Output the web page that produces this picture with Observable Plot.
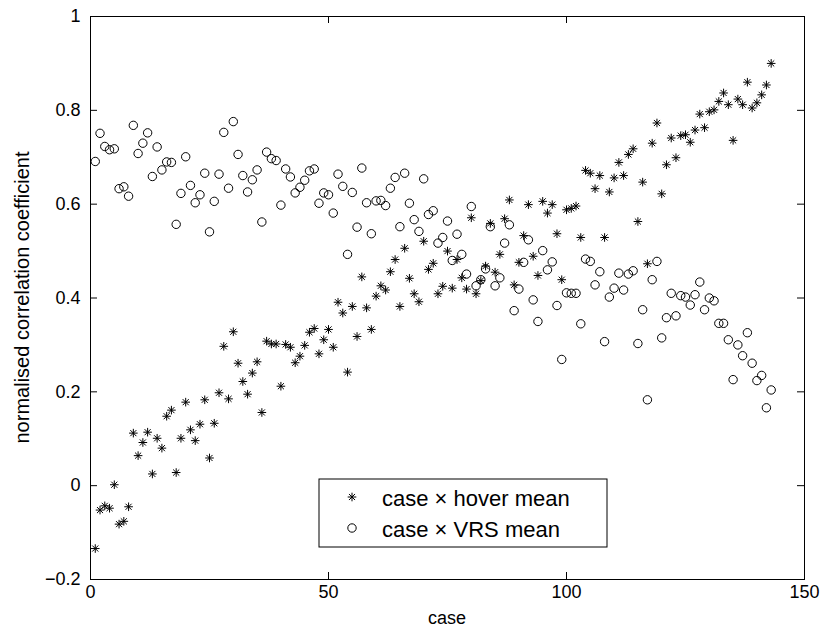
<!DOCTYPE html>
<html>
<head>
<meta charset="utf-8">
<script src="https://cdn.jsdelivr.net/npm/d3@7"></script>
<script src="https://cdn.jsdelivr.net/npm/@observablehq/plot@0.6"></script>
<style>
  html, body { margin: 0; padding: 0; background: #fff; }
  #chart { width: 829px; height: 639px; }
</style>
</head>
<body>
<div id="chart"></div>
<script>
const cases = d3.range(1, 144);

const hoverMean = [
  -0.134, -0.052, -0.043, -0.048, 0.002, -0.082, -0.076, -0.045, 0.112, 0.064,
  0.092, 0.114, 0.025, 0.101, 0.080, 0.148, 0.161, 0.028, 0.101, 0.178,
  0.119, 0.096, 0.131, 0.183, 0.059, 0.133, 0.198, 0.297, 0.185, 0.328,
  0.261, 0.222, 0.195, 0.240, 0.264, 0.156, 0.308, 0.302, 0.302, 0.212,
  0.301, 0.295, 0.262, 0.276, 0.299, 0.327, 0.335, 0.281, 0.311, 0.333,
  0.295, 0.391, 0.368, 0.242, 0.382, 0.318, 0.445, 0.379, 0.333, 0.404,
  0.426, 0.417, 0.456, 0.482, 0.382, 0.506, 0.442, 0.409, 0.392, 0.521,
  0.461, 0.474, 0.409, 0.425, 0.500, 0.421, 0.482, 0.443, 0.419, 0.571,
  0.409, 0.437, 0.468, 0.559, 0.455, 0.493, 0.569, 0.609, 0.428, 0.476,
  0.533, 0.599, 0.489, 0.448, 0.606, 0.581, 0.599, 0.537, 0.439, 0.588,
  0.591, 0.596, 0.529, 0.672, 0.666, 0.633, 0.661, 0.529, 0.626, 0.656,
  0.689, 0.661, 0.706, 0.718, 0.563, 0.647, 0.473, 0.730, 0.773, 0.622,
  0.684, 0.741, 0.699, 0.746, 0.748, 0.732, 0.758, 0.792, 0.763, 0.797,
  0.801, 0.819, 0.837, 0.812, 0.736, 0.824, 0.812, 0.860, 0.805, 0.816,
  0.833, 0.854, 0.900
];

const vrsMean = [
  0.691, 0.751, 0.723, 0.716, 0.718, 0.633, 0.637, 0.617, 0.768, 0.708,
  0.730, 0.752, 0.659, 0.722, 0.673, 0.690, 0.689, 0.557, 0.623, 0.701,
  0.640, 0.603, 0.620, 0.666, 0.541, 0.606, 0.664, 0.753, 0.634, 0.776,
  0.706, 0.661, 0.626, 0.652, 0.673, 0.562, 0.711, 0.697, 0.693, 0.598,
  0.675, 0.658, 0.624, 0.636, 0.651, 0.671, 0.675, 0.602, 0.624, 0.620,
  0.581, 0.664, 0.638, 0.493, 0.625, 0.551, 0.677, 0.603, 0.537, 0.607,
  0.608, 0.597, 0.634, 0.657, 0.552, 0.666, 0.602, 0.567, 0.542, 0.654,
  0.578, 0.586, 0.517, 0.529, 0.564, 0.480, 0.536, 0.493, 0.451, 0.595,
  0.426, 0.439, 0.462, 0.552, 0.426, 0.443, 0.517, 0.556, 0.373, 0.419,
  0.476, 0.524, 0.396, 0.350, 0.501, 0.460, 0.477, 0.384, 0.269, 0.411,
  0.410, 0.410, 0.345, 0.483, 0.478, 0.428, 0.456, 0.307, 0.402, 0.421,
  0.453, 0.417, 0.451, 0.458, 0.303, 0.375, 0.183, 0.439, 0.478, 0.315,
  0.358, 0.410, 0.362, 0.405, 0.402, 0.385, 0.407, 0.434, 0.375, 0.400,
  0.394, 0.346, 0.346, 0.311, 0.226, 0.300, 0.277, 0.326, 0.261, 0.224,
  0.235, 0.166, 0.204
];

const xTicks = [0, 50, 100, 150];
const yTicks = [-0.2, 0, 0.2, 0.4, 0.6, 0.8, 1];
const seriesLabels = ["case \u00d7 hover mean", "case \u00d7 VRS mean"];
const xLabel = "case";
const yLabel = "normalised correlation coefficient";

const hoverData = cases.map((c, i) => ({case: c, value: hoverMean[i]}));
const vrsData = cases.map((c, i) => ({case: c, value: vrsMean[i]}));

// MATLAB-style '*' marker: plus and cross overlaid
const matlabStar = {
  draw(ctx, size) {
    const r = Math.sqrt(size / Math.PI);
    const d = r * Math.SQRT1_2;
    ctx.moveTo(-r, 0); ctx.lineTo(r, 0);
    ctx.moveTo(0, -r); ctx.lineTo(0, r);
    ctx.moveTo(-d, -d); ctx.lineTo(d, d);
    ctx.moveTo(-d, d); ctx.lineTo(d, -d);
  }
};

const W = 829, H = 639, mL = 90, mR = 25, mT = 16, mB = 60;
const pw = W - mL - mR, ph = H - mT - mB, tk = 7;
const font = "'Liberation Sans', Arial, Helvetica, sans-serif";
const fmt = d3.format("~g");

const svg = Plot.plot({
  width: W, height: H,
  marginLeft: mL, marginRight: mR, marginTop: mT, marginBottom: mB,
  style: {fontFamily: font, fontSize: "18px", color: "black", background: "white"},
  x: {domain: [0, 150]},
  y: {domain: [-0.2, 1]},
  marks: [
    Plot.axisX(xTicks, {tickSize: 0, tickPadding: 6, label: null, fontSize: 18, tickFormat: fmt}),
    Plot.axisY(yTicks, {tickSize: 0, tickPadding: 10, label: null, fontSize: 18, tickFormat: fmt}),
    Plot.tickX(xTicks, {x: d => d, insetTop: ph - tk, stroke: "black"}),
    Plot.tickX(xTicks, {x: d => d, insetBottom: ph - tk, stroke: "black"}),
    Plot.tickY(yTicks, {y: d => d, insetRight: pw - tk, stroke: "black"}),
    Plot.tickY(yTicks, {y: d => d, insetLeft: pw - tk, stroke: "black"}),
    Plot.dot(hoverData, {x: "case", y: "value", symbol: matlabStar, r: 4.3, stroke: "black", strokeWidth: 1, fill: "none"}),
    Plot.dot(vrsData, {x: "case", y: "value", symbol: "circle", r: 4.2, stroke: "black", strokeWidth: 1, fill: "none"}),
    Plot.frame({stroke: "black", strokeWidth: 1})
  ]
});

const s = d3.select(svg);
s.append("text")
  .attr("x", mL + pw / 2).attr("y", 618).attr("dy", "0.35em")
  .attr("text-anchor", "middle").attr("font-size", 18).attr("fill", "black")
  .text(xLabel);
s.append("text")
  .attr("transform", `translate(22,${mT + ph / 2}) rotate(-90)`).attr("dy", "0.35em")
  .attr("text-anchor", "middle").attr("font-size", 20).attr("fill", "black")
  .text(yLabel);

// legend
const lg = s.append("g");
lg.append("rect").attr("x", 319).attr("y", 479).attr("width", 288).attr("height", 68)
  .attr("fill", "white").attr("stroke", "black").attr("stroke-width", 1);
const starPath = d3.path(); matlabStar.draw(starPath, 4.3 * 4.3 * Math.PI);
lg.append("path").attr("transform", "translate(352,497)").attr("d", starPath.toString())
  .attr("stroke", "black").attr("fill", "none");
lg.append("circle").attr("cx", 352).attr("cy", 528).attr("r", 4.2)
  .attr("stroke", "black").attr("fill", "none");
lg.selectAll("text.lt").data(seriesLabels).join("text")
  .attr("x", 382).attr("y", (d, i) => 498 + i * 31).attr("dy", "0.35em")
  .attr("text-anchor", "start")
  .attr("font-size", 22).attr("fill", "black").text(d => d);

document.getElementById("chart").appendChild(svg);
</script>
</body>
</html>
